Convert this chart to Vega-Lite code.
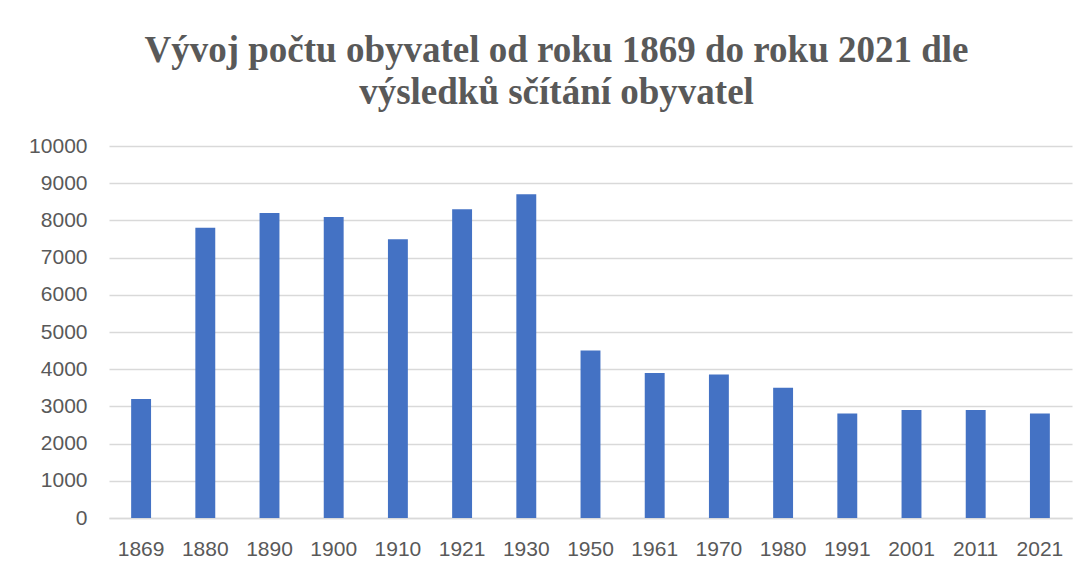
{
  "$schema": "https://vega.github.io/schema/vega-lite/v6.json",
  "autosize": "none",
  "padding": {"left": 109, "top": 146, "right": 18, "bottom": 53},
  "width": 963,
  "height": 372,
  "background": "white",
  "title": {
    "text": ["Vývoj počtu obyvatel od roku 1869 do roku 2021 dle", "výsledků sčítání obyvatel"],
    "font": "Liberation Serif",
    "fontWeight": "bold",
    "fontSize": 37,
    "color": "#595959",
    "anchor": "middle",
    "dx": -34,
    "offset": 23,
    "lineHeight": 42
  },
  "data": {
    "values": [
      {"rok": "1869", "obyvatel": 3200},
      {"rok": "1880", "obyvatel": 7800},
      {"rok": "1890", "obyvatel": 8200},
      {"rok": "1900", "obyvatel": 8090},
      {"rok": "1910", "obyvatel": 7490},
      {"rok": "1921", "obyvatel": 8300},
      {"rok": "1930", "obyvatel": 8700},
      {"rok": "1950", "obyvatel": 4500},
      {"rok": "1961", "obyvatel": 3900},
      {"rok": "1970", "obyvatel": 3860},
      {"rok": "1980", "obyvatel": 3500},
      {"rok": "1991", "obyvatel": 2810},
      {"rok": "2001", "obyvatel": 2900},
      {"rok": "2011", "obyvatel": 2900},
      {"rok": "2021", "obyvatel": 2810}
    ]
  },
  "mark": {"type": "bar", "color": "#4472C4"},
  "encoding": {
    "x": {
      "field": "rok",
      "type": "ordinal",
      "sort": null,
      "title": null,
      "scale": {"paddingInner": 0.69, "paddingOuter": 0.345},
      "axis": {
        "labelAngle": 0,
        "labelFont": "Liberation Sans",
        "labelFontSize": 21,
        "labelColor": "#595959",
        "labelPadding": 20,
        "ticks": false,
        "domainColor": "#d9d9d9",
        "domainWidth": 1.5
      }
    },
    "y": {
      "field": "obyvatel",
      "type": "quantitative",
      "title": null,
      "scale": {"domain": [0, 10000]},
      "axis": {
        "values": [0, 1000, 2000, 3000, 4000, 5000, 6000, 7000, 8000, 9000, 10000],
        "format": "d",
        "labelFont": "Liberation Sans",
        "labelFontSize": 21,
        "labelColor": "#595959",
        "labelPadding": 22,
        "ticks": false,
        "domain": false,
        "gridColor": "#d9d9d9",
        "gridWidth": 1.5
      }
    }
  },
  "config": {"view": {"stroke": null}}
}
